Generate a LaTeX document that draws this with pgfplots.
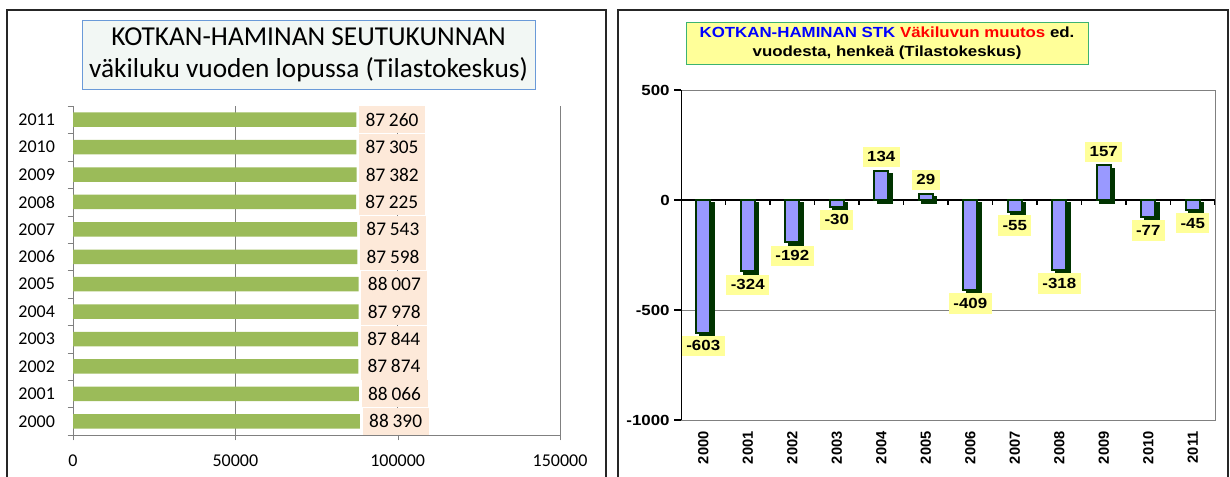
\documentclass[border=0pt]{standalone}
\usepackage{pgfplots}
\pgfplotsset{compat=1.18}
\usepackage{fontspec}
\setmainfont{Carlito}
\newfontfamily\arialb[FakeStretch=1.15]{Liberation Sans}
\newfontfamily\arialr{Liberation Sans}
\definecolor{barg}{HTML}{9BBB59}
\definecolor{peach}{HTML}{FDE9D9}
\definecolor{ttlbg}{HTML}{F2F7F4}
\definecolor{ttlbd}{HTML}{6A9AD8}
\definecolor{bblue}{HTML}{9999FF}
\definecolor{dgreen}{HTML}{003300}
\definecolor{lyel}{HTML}{FFFF99}
\definecolor{tgreen}{HTML}{3CB371}
\newcommand\thsp{\hspace{0.2em}}
\begin{document}
\begin{tikzpicture}
\path[use as bounding box] (0,0) rectangle (922.5pt,357.75pt);
\draw[black!85, line width=1.1pt] (5.25pt,0) -- (5.25pt,350.25pt) -- (454.5pt,350.25pt) -- (454.5pt,0);
\draw[black!85, line width=1.1pt] (463.5pt,0) -- (463.5pt,350.25pt) -- (921pt,350.25pt) -- (921pt,0);

\node[fill=ttlbg, draw=ttlbd, line width=0.6pt, minimum width=339.75pt, minimum height=51.75pt, align=center, font=\fontsize{20.5}{24}\selectfont] at (231.4pt,316.9pt) {KOTKAN-HAMINAN SEUTUKUNNAN\\väkiluku vuoden lopussa (Tilastokeskus)};

\node[fill=lyel, draw=tgreen, line width=0.6pt, minimum width=301.5pt, minimum height=30.75pt, align=center, font=\arialb\bfseries\fontsize{11}{14.25}\selectfont] at (665.25pt,325.1pt) {\textcolor{blue}{KOTKAN-HAMINAN STK} \textcolor{red}{Väkiluvun muutos} ed.\\vuodesta, henkeä (Tilastokeskus)};

\begin{axis}[
  at={(54.75pt,31.5pt)}, anchor=south west, width=365.25pt, height=246.75pt, scale only axis,
  xbar, bar width=10.9pt,
  xmin=0, xmax=150000, ymin=-0.5, ymax=11.5,
  axis x line*=bottom, axis y line*=left,
  axis line style={gray, -},
  xtick={0,50000,100000,150000},
  xticklabels={0,50000,100000,150000},
  scaled x ticks=false,
  xticklabel style={yshift=-7pt},
  xmajorgrids, major grid style={gray},
  ytick={-0.5,0.5,...,11.5}, yticklabels={},
  extra y ticks={0,1,2,3,4,5,6,7,8,9,10,11},
  extra y tick labels={2000,2001,2002,2003,2004,2005,2006,2007,2008,2009,2010,2011},
  extra y tick style={major tick length=0pt, yticklabel style={xshift=-10pt}},
  major tick length=4pt,
  tick align=outside,
  tick style={gray},
  ticklabel style={font=\fontsize{13.5}{15}\selectfont},
  point meta=explicit symbolic,
  nodes near coords,
  nodes near coords align=horizontal,
  every node near coord/.append style={anchor=west, fill=peach, minimum height=20.25pt, minimum width=49.5pt, inner sep=0pt, outer sep=2pt, font=\fontsize{14.5}{16}\selectfont},
]
\addplot[fill=barg, draw=none] coordinates {
(88390,0) [88\thsp 390] (88066,1) [88\thsp 066] (87874,2) [87\thsp 874]
(87844,3) [87\thsp 844] (87978,4) [87\thsp 978] (88007,5) [88\thsp 007]
(87598,6) [87\thsp 598] (87543,7) [87\thsp 543] (87225,8) [87\thsp 225]
(87382,9) [87\thsp 382] (87305,10) [87\thsp 305] (87260,11) [87\thsp 260]};
\end{axis}

\begin{axis}[
  at={(510.75pt,42.75pt)}, anchor=south west, width=400.5pt, height=247.5pt, scale only axis,
  ybar,
  ymin=-1000, ymax=500, xmin=-0.5, xmax=11.5,
  axis line style={gray},
  ytick={-1000,-500,0,500},
  yticklabels={-1000,-500,0,500},
  ymajorgrids, major grid style={gray},
  xtick={0,...,11}, xticklabels={2000,2001,2002,2003,2004,2005,2006,2007,2008,2009,2010,2011},
  x tick label style={rotate=90, anchor=east, font=\arialr\bfseries\fontsize{11}{12}\selectfont},
  xtick style={draw=none},
  y tick label style={font=\arialb\bfseries\fontsize{11}{12}\selectfont},
  ytick style={black, line width=1pt}, major tick length=5pt, tick align=outside, tick pos=left,
  /pgf/number format/assume math mode=true,
]
\draw[black, line width=1.5pt] (axis cs:-0.5,0) -- (axis cs:11.5,0);
\pgfplotsinvokeforeach{0,...,11}{\draw[black, line width=0.8pt] (axis cs:#1.5,0) -- ++(0pt,-4pt);}
\addplot[bar width=10.5pt, bar shift=2.5pt, yshift=-2.5pt, fill=dgreen, draw=dgreen, line width=1.5pt] coordinates {
(0,-603) (1,-324) (2,-192) (3,-30) (4,134) (5,29) (6,-409) (7,-55) (8,-318) (9,157) (10,-77) (11,-45)};
\addplot[bar width=10.5pt, bar shift=0pt, fill=bblue, draw=dgreen, line width=1.5pt,
  nodes near coords,
  every node near coord/.append style={fill=lyel, inner xsep=3.3pt, inner ysep=4pt, text height=0.72em, text depth=0pt, outer sep=2.5pt, font=\arialb\bfseries\fontsize{11}{12}\selectfont}] coordinates {
(0,-603) (1,-324) (2,-192) (3,-30) (4,134) (5,29) (6,-409) (7,-55) (8,-318) (9,157) (10,-77) (11,-45)};
\draw[black, line width=1.5pt] (rel axis cs:0,0) -- (rel axis cs:0,1);
\end{axis}
\end{tikzpicture}
\end{document}
